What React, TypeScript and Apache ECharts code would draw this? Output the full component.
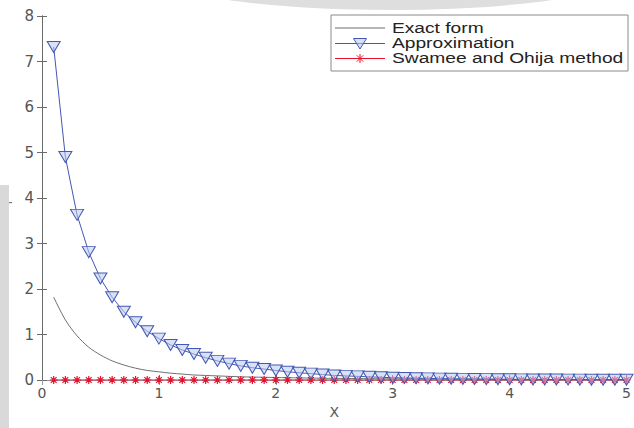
import React, { useEffect, useRef } from "react";
import * as echarts from "echarts";

const xValues = [
  0.1, 0.2, 0.3, 0.4, 0.5, 0.6, 0.7, 0.8, 0.9, 1.0,
  1.1, 1.2, 1.3, 1.4, 1.5, 1.6, 1.7, 1.8, 1.9, 2.0,
  2.1, 2.2, 2.3, 2.4, 2.5, 2.6, 2.7, 2.8, 2.9, 3.0,
  3.1, 3.2, 3.3, 3.4, 3.5, 3.6, 3.7, 3.8, 3.9, 4.0,
  4.1, 4.2, 4.3, 4.4, 4.5, 4.6, 4.7, 4.8, 4.9, 5.0,
];

const exactForm = [
  1.82, 1.32, 0.97, 0.72, 0.55, 0.42, 0.33, 0.26, 0.21, 0.18,
  0.15, 0.13, 0.11, 0.1, 0.09, 0.08, 0.07, 0.065, 0.06, 0.055,
  0.05, 0.046, 0.042, 0.039, 0.036, 0.033, 0.031, 0.029, 0.027, 0.025,
  0.024, 0.022, 0.021, 0.02, 0.019, 0.018, 0.017, 0.016, 0.015, 0.015,
  0.014, 0.013, 0.013, 0.012, 0.012, 0.011, 0.011, 0.01, 0.01, 0.01,
];

const approximation = [
  7.32, 4.9, 3.63, 2.81, 2.23, 1.82, 1.5, 1.27, 1.07, 0.91,
  0.77, 0.66, 0.57, 0.49, 0.42, 0.36, 0.31, 0.27, 0.24, 0.21,
  0.18, 0.16, 0.14, 0.12, 0.1, 0.09, 0.08, 0.07, 0.06, 0.05,
  0.045, 0.04, 0.035, 0.03, 0.027, 0.024, 0.021, 0.019, 0.017, 0.015,
  0.013, 0.012, 0.011, 0.01, 0.009, 0.008, 0.007, 0.006, 0.006, 0.005,
];

const swameeOhija = [
  0, 0, 0, 0, 0, 0, 0, 0, 0, 0,
  0, 0, 0, 0, 0, 0, 0, 0, 0, 0,
  0, 0, 0, 0, 0, 0, 0, 0, 0, 0,
  0, 0, 0, 0, 0, 0, 0, 0, 0, 0,
  0, 0, 0, 0, 0, 0, 0, 0, 0, 0,
];

const seriesNames = ["Exact form", "Approximation", "Swamee and Ohija method"];
const xAxisName = "X";

const STAR = "path://M0,-5L0,5M-5,0L5,0M-3.6,-3.6L3.6,3.6M-3.6,3.6L3.6,-3.6";

const colGray = "#6f6f6f";
const colBlue = "#4358b2";
const colBlueFill = "rgba(185,200,240,0.55)";
const colRed = "#e8112d";

export default function App() {
  const ref = useRef<HTMLDivElement>(null);
  useEffect(() => {
    if (!ref.current) return;
    const chart = echarts.init(ref.current, null, { renderer: "svg" });
    const pair = (ys: number[]) => xValues.map((x, i) => [x, ys[i]]);
    const font = "DejaVu Sans";

    const legendX = 331;
    const legendY = 15;
    const rows = [28, 43.5, 58.5];
    const legendGraphics: any[] = [
      {
        type: "rect",
        shape: { x: legendX, y: legendY, width: 297, height: 56 },
        style: { fill: "#ffffff", stroke: "#8a8a8a", lineWidth: 1 },
        z: 10,
      },
    ];
    const sampleColors = [colGray, colBlue, colRed];
    rows.forEach((ry, i) => {
      legendGraphics.push({
        type: "line",
        shape: { x1: 335, y1: ry, x2: 385, y2: ry },
        style: { stroke: sampleColors[i], lineWidth: 1 },
        z: 11,
      });
      legendGraphics.push({
        type: "text",
        x: 392,
        y: ry,
        scaleX: 1.37,
        style: {
          text: seriesNames[i],
          fontSize: 14,
          fontFamily: "Liberation Sans",
          fill: "#222",
          verticalAlign: "middle",
          align: "left",
        },
        z: 11,
      });
    });
    const ay = rows[1];
    legendGraphics.push({
      type: "polygon",
      shape: { points: [[353.5, ay - 5], [366.5, ay - 5], [360, ay + 5.5]] },
      style: { fill: colBlueFill, stroke: colBlue, lineWidth: 1 },
      z: 12,
    });
    const sy = rows[2];
    legendGraphics.push({
      type: "group",
      z: 12,
      children: [
        { type: "line", shape: { x1: 360, y1: sy - 4.5, x2: 360, y2: sy + 4.5 }, style: { stroke: colRed, lineWidth: 1 }, z: 12 },
        { type: "line", shape: { x1: 355.5, y1: sy, x2: 364.5, y2: sy }, style: { stroke: colRed, lineWidth: 1 }, z: 12 },
        { type: "line", shape: { x1: 356.8, y1: sy - 3.2, x2: 363.2, y2: sy + 3.2 }, style: { stroke: colRed, lineWidth: 1 }, z: 12 },
        { type: "line", shape: { x1: 356.8, y1: sy + 3.2, x2: 363.2, y2: sy - 3.2 }, style: { stroke: colRed, lineWidth: 1 }, z: 12 },
      ],
    });

    const bgGraphics: any[] = [
      { type: "rect", shape: { x: 0, y: 185, width: 9, height: 243 }, style: { fill: "#d9d9d9" }, z: -10 },
      { type: "ellipse", shape: { cx: 390, cy: -28, rx: 240, ry: 38 }, style: { fill: "#dedede" }, z: -10 },
      { type: "rect", shape: { x: 9, y: 202, width: 3, height: 1.2 }, style: { fill: "#777" }, z: 1 },
    ];

    const axisLineGray = { show: true, lineStyle: { color: "#6a6a6a", width: 1 } };
    const axisLineLight = { show: true, lineStyle: { color: "#9a9a9a", width: 1 } };

    chart.setOption({
      animation: false,
      backgroundColor: "#ffffff",
      grid: { left: 42, right: 6, top: 16, bottom: 48, containLabel: false },
      xAxis: [
        {
          type: "value",
          position: "bottom",
          min: 0,
          max: 5,
          interval: 1,
          name: xAxisName,
          nameLocation: "middle",
          nameGap: 24,
          nameTextStyle: { fontSize: 14, color: "#555", fontFamily: font },
          axisLine: axisLineGray,
          axisTick: { show: true, inside: true, length: 5, lineStyle: { color: "#6a6a6a" } },
          axisLabel: { fontSize: 14, color: "#555", margin: 6, fontFamily: font },
          splitLine: { show: false },
        },
        {
          type: "value",
          position: "top",
          min: 0,
          max: 5,
          interval: 1,
          axisLine: axisLineLight,
          axisTick: { show: true, inside: true, length: 5, lineStyle: { color: "#9a9a9a" } },
          axisLabel: { show: false },
          splitLine: { show: false },
        },
      ],
      yAxis: [
        {
          type: "value",
          position: "left",
          min: 0,
          max: 8,
          interval: 1,
          axisLine: axisLineGray,
          axisTick: { show: true, inside: true, length: 5, lineStyle: { color: "#6a6a6a" } },
          axisLabel: { fontSize: 15, color: "#555", margin: 8, fontFamily: font },
          splitLine: { show: false },
        },
        {
          type: "value",
          position: "right",
          min: 0,
          max: 8,
          interval: 1,
          axisLine: axisLineGray,
          axisTick: { show: true, inside: true, length: 5, lineStyle: { color: "#6a6a6a" } },
          axisLabel: { show: false },
          splitLine: { show: false },
        },
      ],
      series: [
        {
          name: seriesNames[0],
          type: "line",
          data: pair(exactForm),
          smooth: 0.3,
          showSymbol: false,
          symbol: "none",
          lineStyle: { color: colGray, width: 1 },
          z: 2,
        },
        {
          name: seriesNames[2],
          type: "line",
          data: pair(swameeOhija),
          symbol: STAR,
          symbolSize: 8,
          showAllSymbol: true,
          lineStyle: { color: colRed, width: 1 },
          itemStyle: { color: "rgba(0,0,0,0)", borderColor: colRed, borderWidth: 1.2 },
          z: 3,
        },
        {
          name: seriesNames[1],
          type: "line",
          data: pair(approximation),
          symbol: "triangle",
          symbolRotate: 180,
          symbolSize: [13, 11],
          showAllSymbol: true,
          lineStyle: { color: colBlue, width: 1 },
          itemStyle: { color: colBlueFill, borderColor: colBlue, borderWidth: 1 },
          z: 4,
        },
      ],
      graphic: [...bgGraphics, ...legendGraphics],
    });
    return () => chart.dispose();
  }, []);
  return (
    <div
      ref={ref}
      style={{ position: "fixed", left: 0, top: 0, width: 634, height: 428, background: "#fff" }}
    />
  );
}
